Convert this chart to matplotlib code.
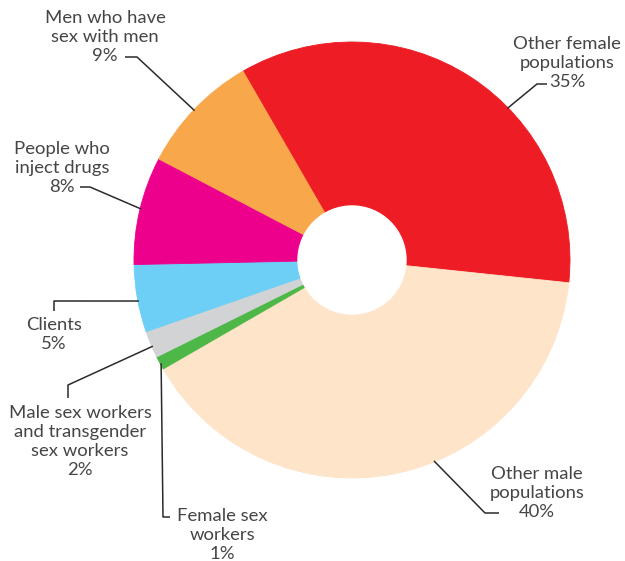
import numpy as np
import matplotlib.pyplot as plt

# slice data, clockwise from the top-left edge of the red slice
groups = ['Other female\npopulations', 'Other male\npopulations', 'Female sex\nworkers',
          'Male sex workers\nand transgender\nsex workers', 'Clients',
          'People who\ninject drugs', 'Men who have\nsex with men']
shares = [35, 40, 1, 2, 5, 8, 9]
colors = ['#EE1D25', '#FEE4C8', '#4DB848', '#D1D3D4', '#6DCFF6', '#EC008C', '#F9A74B']

W, H = 625, 561
cx, cy, R, hole = 352, H - 260, 218, 54
start = 120.0

fig = plt.figure(figsize=(W / 100, H / 100), dpi=100)
ax = fig.add_axes([0, 0, 1, 1])

wedges, _ = ax.pie(shares, colors=colors, startangle=start, counterclock=False,
                   center=(cx, cy), radius=R, frame=True,
                   wedgeprops=dict(linewidth=0.6))
for w, c in zip(wedges, colors):
    w.set_edgecolor(c)
ax.add_patch(plt.Circle((cx, cy), hole, color='white', zorder=5))
ax.set_xlim(0, W)
ax.set_ylim(0, H)
ax.set_aspect('equal')
ax.axis('off')

# leader layout: anchor angle offset from slice middle, elbow and end points (pixels), text spot
layout = [
    (-12.7, [(537, 84), (547, 84)], (567, 36)),
    (10.2, [(485, 513), (499, 513)], (537, 466)),
    (0.2, [(163, 517), (170, 517)], (222, 508)),
    (0.6, [(68, 385), (68, 398)], (80, 405)),
    (0.7, [(54, 301), (54, 311)], (54, 317)),
    (-0.4, [(90, 187), (80, 187)], (62, 141)),
    (0.3, [(137, 57), (125, 57)], (105, 10)),
]

text_color = '#454545'
edges = np.concatenate([[0], np.cumsum(shares)])
for i, (lab, val) in enumerate(zip(groups, shares)):
    a0 = start - edges[i] / 100 * 360
    a1 = start - edges[i + 1] / 100 * 360
    mid = np.deg2rad((a0 + a1) / 2 + layout[i][0])
    px, py = cx + (R - 1) * np.cos(mid), cy + (R - 1) * np.sin(mid)
    pts = [(px, py)] + [(x, H - y) for x, y in layout[i][1]]
    xs, ys = zip(*pts)
    ax.plot(xs, ys, color='#2b2b2b', lw=1.1, zorder=6, solid_capstyle='butt')
    tx, ty = layout[i][2]
    ax.text(tx, H - ty, f'{lab}\n{val}%', ha='center', va='top', fontsize=13.3,
            family='Lato', color=text_color, linespacing=1.22, zorder=7)

fig.savefig('out.png', dpi=100)
